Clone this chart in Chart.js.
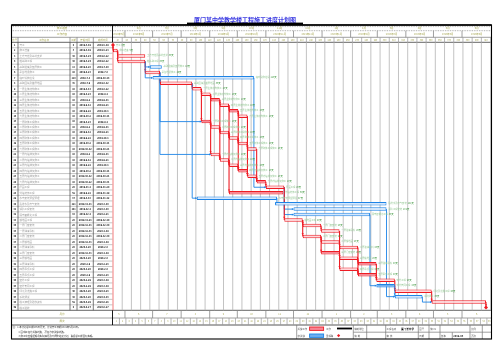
<!DOCTYPE html>
<html lang="zh-CN">
<head>
<meta charset="utf-8">
<title>施工进度计划图</title>
<script src="https://cdn.jsdelivr.net/npm/chart.js@4.4.1/dist/chart.umd.min.js"></script>
<style>html,body{margin:0;padding:0;background:#fff;overflow:hidden}canvas{display:block}</style>
</head>
<body>
<canvas id="gantt" width="503" height="355"></canvas>
<script>
// ---------------- DATA ----------------
const chartTitle = '厦门某中学教学楼工程施工进度计划图';
const taskNames = [
  '开工','施工准备','土方开挖及基坑支护','桩基础工程','基础验槽及垫层施工','承台地梁施工','临时设施搭设',
  '基础回填及首层地面','一层主体结构施工','二层主体结构施工','三层主体结构施工','四层主体结构施工','五层主体结构施工','六层主体结构施工',
  '一层砌体工程施工','二层砌体工程施工','三层砌体工程施工','四层砌体工程施工','五层砌体工程施工','六层砌体工程施工',
  '一层内墙抹灰施工','二层内墙抹灰施工','三层内墙抹灰施工','四层内墙抹灰施工','五层内墙抹灰施工','六层内墙抹灰施工',
  '屋面工程','外墙装饰工程','水电安装预留预埋','给排水及电气安装','消防工程安装','弱电智能化工程',
  '楼地面工程','一层门窗安装','一层油漆涂料','二层门窗安装','二层楼地面','二层油漆涂料',
  '三层门窗安装','三层楼地面','三层油漆涂料','四层吊顶工程','五层吊顶工程','室外工程',
  '室外管网工程','绿化及道路工程','系统调试','竣工清理及验收资料','竣工验收'
];
const startDays = [0,0,5,5,40,35,43,51,86,96,106,116,126,136,96,106,116,126,136,146,106,116,126,136,146,156,166,126,91,176,196,196,186,206,226,206,226,246,226,246,266,246,266,286,286,306,306,346,405];
const endDays   = [0,5,35,35,53,51,153,86,96,106,116,126,136,146,106,116,126,136,146,156,116,126,136,146,156,166,186,185,178,297,297,279,206,226,246,226,246,266,246,266,286,266,286,306,306,346,336,405,405];
const isCritical = [1,1,1,1,0,1,0,1,1,1,1,1,1,1,1,1,1,1,1,1,1,1,1,1,1,1,1,1,0,0,0,0,1,1,1,1,1,1,1,1,1,1,1,1,0,1,0,1,1];
const isFilled   = [0,0,0,0,0,0,0,0,0,0,1,0,1,0,1,0,0,0,0,0,0,0,0,1,0,1,0,1,0,0,0,0,0,0,0,0,0,0,1,0,1,0,1,0,1,0,0,0,0];
const isMilestone= [1,0,0,0,0,0,0,0,0,0,0,0,0,0,0,0,0,0,0,0,0,0,0,0,0,0,0,0,0,0,0,0,0,0,0,0,0,0,0,0,0,0,0,0,0,0,0,0,1];
const links = [
  [0,1],[1,2],[1,3],[3,4],[3,5],[3,6],[5,7],[7,8],[8,9],[9,10],[10,11],[11,12],[12,13],
  [8,14],[9,15],[10,16],[11,17],[12,18],[13,19],
  [14,15],[15,16],[16,17],[17,18],[18,19],
  [14,20],[15,21],[16,22],[17,23],[18,24],[19,25],
  [20,21],[21,22],[22,23],[23,24],[24,25],[25,26],
  [5,14],[5,20],[7,28],[6,26],[21,27],[28,29],[26,30],[26,31],[26,32],
  [32,33],[32,35],[33,34],[35,36],[35,38],[34,37],[36,39],[38,41],[37,40],[39,42],[41,42],
  [40,43],[42,43],[31,44],[43,45],[30,46],[44,46],[45,47],[46,47],[47,48]
];
const monthEdges = [0,13,43,74,105,135,166,196,227,258,287,318,348,379,411];
const monthNums = ['5','6','7','8','9','10','11','12','1','2','3','4','5','6'];
const monthTopLabels = ['','6月','7月','8月','9月','10月','11月','12月','1月','2月','3月','4月','5月','6月'];
const monthYearLabels = ['2019年5月','2019年6月','2019年7月','2019年8月','2019年9月','2019年10月','2019年11月','2019年12月','2020年1月','2020年2月','2020年3月','2020年4月','2020年5月','2020年6月'];
const colHeaders = ['序号','工作名称','工期','开始时间','完成时间'];
const leftHeaderTop = '施工进度';
const leftHeaderMid = '工作内容';
const footMonthLabel = '月份';
const footWeekLabel = '周次';
const notes = ['注：1.本计划总工期405日历天，计划开工日期2019年5月19日。','2.图中红色为关键线路，蓝色为非关键线路。','3.施工中应根据现场实际情况及时调整进度计划，确保总工期目标实现。'];
const AXIS_MAX = 411;

// ---------------- HELPERS ----------------
const FONT = '"Noto Sans CJK SC","Noto Sans",sans-serif';
const RED = 'rgb(238,28,36)', BLUE = 'rgb(30,132,230)', OL = 'rgb(165,165,80)';
const L = 11.5, R = 491.5, TOP = 25, BOT = 339;
const colX = [11.5, 18, 70, 77, 93.3, 112.5];
const hdrY = [25, 30.7, 37.3, 42.3];
const footY = [310.3, 318, 325, 339];

function txt(c, s, x, y, size, color, align, weight){
  c.font = (weight||'normal') + ' ' + size + 'px ' + FONT;
  c.fillStyle = color; c.textAlign = align||'center'; c.textBaseline = 'middle';
  c.fillText(s, x, y);
}
function hline(c, x1, x2, y, color, w){ c.beginPath(); c.strokeStyle=color; c.lineWidth=w; c.moveTo(x1,y); c.lineTo(x2,y); c.stroke(); }
function vline(c, x, y1, y2, color, w){ c.beginPath(); c.strokeStyle=color; c.lineWidth=w; c.moveTo(x,y1); c.lineTo(x,y2); c.stroke(); }
function dotted(c, x1, x2, y, color){ c.save(); c.setLineDash([0.8,0.9]); hline(c,x1,x2,y,color,0.8); c.restore(); }
function fmtDate(day){ const d = new Date(Date.UTC(2019,4,19+day)); return d.getUTCFullYear()+'.'+(d.getUTCMonth()+1)+'.'+d.getUTCDate(); }
function diamond(c, x, y, r, color){ c.beginPath(); c.fillStyle=color; c.moveTo(x,y-r); c.lineTo(x+r,y); c.lineTo(x,y+r); c.lineTo(x-r,y); c.closePath(); c.fill(); }

const bars = startDays.map((s,i) => isMilestone[i] ? null : [s, endDays[i]]);
const fills = isCritical.map((cr,i) => cr ? (isFilled[i] ? 'rgb(247,135,148)' : 'rgb(255,214,218)') : (isFilled[i] ? 'rgb(110,175,240)' : 'rgb(214,232,252)'));
const borders = isCritical.map(cr => cr ? RED : BLUE);

const ganttPlugin = {
  id: 'ganttFrame',
  beforeDraw(chart){
    const c = chart.ctx, xs = chart.scales.x, ys = chart.scales.y, ca = chart.chartArea;
    const X = d => xs.getPixelForValue(d);
    c.save();
    c.fillStyle = '#fff'; c.fillRect(0,0,chart.width,chart.height);
    // title
    txt(c, chartTitle, 245, 19.3, 6, 'rgb(55,55,225)', 'center', 'bold');
    c.fillStyle = '#000'; c.fillRect(187, 22.6, 116, 2.4);
    // header lines
    dotted(c, L, R, 26.6, '#999');
    dotted(c, L, R, hdrY[1], '#888');
    hline(c, L, R, hdrY[2], '#888', 0.8);
    hline(c, L, R, hdrY[3], '#555', 0.9);
    // left header
    txt(c, leftHeaderTop, 62, 28.4, 2.6, OL);
    txt(c, leftHeaderMid, 62, 34, 2.6, OL);
    colHeaders.forEach((s,k) => txt(c, s, (colX[k]+colX[k+1])/2, 39.9, 2.4, OL));
    for (let k=1;k<colX.length-1;k++) vline(c, colX[k], hdrY[2], hdrY[3], '#777', 0.7);
    // month header cells
    for (let m=1;m<monthEdges.length-1;m++) vline(c, X(monthEdges[m]), hdrY[1], hdrY[2], '#888', 0.8);
    for (let m=0;m<monthEdges.length-1;m++){
      const cx = (X(monthEdges[m]) + X(monthEdges[m+1]))/2;
      if (monthTopLabels[m]) txt(c, monthTopLabels[m], cx, 28.4, 2.5, OL);
      txt(c, monthYearLabels[m], cx, 34, 2.4, OL);
    }
    // ten-day header cells
    for (let d=10; d<AXIS_MAX; d+=10) vline(c, X(d), hdrY[2], hdrY[3], '#999', 0.7);
    for (let d=0; d<AXIS_MAX-5; d+=10) txt(c, String(d+10), X(d+5), 39.9, 2.2, OL);
    // left table rows
    const h = (ca.bottom - ca.top) / taskNames.length;
    for (let i=0;i<taskNames.length;i++){
      const y = ys.getPixelForValue(i);
      if (i>0) hline(c, L, colX[5], y - h/2, '#a0a0a0', 0.6);
      txt(c, String(i+1), (colX[0]+colX[1])/2, y, 2.3, '#000', 'center', 'bold');
      txt(c, taskNames[i], colX[1]+1.5, y, 2.5, '#999', 'left');
      txt(c, String(endDays[i]-startDays[i]), (colX[2]+colX[3])/2, y, 2.3, '#000', 'center', 'bold');
      txt(c, fmtDate(startDays[i]), (colX[3]+colX[4])/2, y, 2.4, '#000', 'center', 'bold');
      txt(c, fmtDate(isMilestone[i] ? endDays[i] : endDays[i]-1), (colX[4]+colX[5])/2, y, 2.4, '#000', 'center', 'bold');
    }
    for (let k=1;k<colX.length-1;k++) vline(c, colX[k], hdrY[3], ca.bottom, '#444', 0.7);
    // footer
    hline(c, L, R, footY[0], '#555', 0.9);
    hline(c, L, R, footY[1], '#888', 0.8);
    hline(c, L, R, footY[2], '#444', 0.9);
    txt(c, footMonthLabel, 62, (footY[0]+footY[1])/2, 2.6, OL);
    txt(c, footWeekLabel, 62, (footY[1]+footY[2])/2, 2.6, OL);
    for (let m=1;m<monthEdges.length-1;m++) vline(c, X(monthEdges[m]), footY[0], footY[1], '#888', 0.8);
    for (let m=0;m<monthEdges.length-1;m++) txt(c, monthNums[m], (X(monthEdges[m])+X(monthEdges[m+1]))/2, (footY[0]+footY[1])/2, 2.4, OL);
    for (let d=7; d<AXIS_MAX; d+=7) vline(c, X(d), footY[1], footY[2], '#999', 0.7);
    for (let d=0, k=1; d<AXIS_MAX-2; d+=7, k++) txt(c, String(k), X(Math.min(d+3.5, (d+AXIS_MAX)/2)), (footY[1]+footY[2])/2, 2.1, OL);
    // notes
    txt(c, notes[0], 12.5, 327.2, 2.4, '#333', 'left');
    txt(c, notes[1], 18.5, 331.6, 2.4, '#333', 'left');
    txt(c, notes[2], 18.5, 336, 2.4, '#333', 'left');
    // legend / title block
    const lgTop = footY[2], lgMid = 332.2;
    [296.7, 353.3, 366.7, 385.7, 418.3, 429, 440, 470, 482.3].forEach(x => vline(c, x, lgTop, BOT, '#777', 0.7));
    vline(c, 452.3, lgMid, BOT, '#777', 0.7);
    hline(c, 353.3, R, lgMid, '#777', 0.7);
    const r1 = 328.6, r2 = 335.6;
    txt(c, '关键工作', 297.6, r1, 2.4, '#555', 'left');
    c.fillStyle = 'rgb(247,135,148)'; c.fillRect(309.6, 327, 14, 3.4);
    c.strokeStyle = RED; c.lineWidth = 0.9; c.strokeRect(309.6, 327, 14, 3.4);
    txt(c, '工作', 326, r1, 2.4, '#555', 'left');
    c.fillStyle = '#000'; c.fillRect(337, 327.6, 15, 1.8);
    txt(c, '非关键', 297.6, r2, 2.4, '#555', 'left');
    c.fillStyle = 'rgb(110,175,240)'; c.fillRect(309.6, 334, 14, 3.4);
    c.strokeStyle = BLUE; c.lineWidth = 0.9; c.strokeRect(309.6, 334, 14, 3.4);
    txt(c, '里程碑', 326, r2, 2.4, '#555', 'left');
    diamond(c, 338.6, r2, 1.6, RED);
    txt(c, '编制单位', 354.2, r1, 2.4, '#555', 'left');
    txt(c, '编  制', 354.2, r2, 2.4, '#555', 'left');
    txt(c, '工程名称', 386.6, r1, 2.4, '#555', 'left');
    txt(c, '审  核', 386.6, r2, 2.4, '#555', 'left');
    txt(c, '厦门某中学', 401, r1, 2.6, '#000', 'left', 'bold');
    txt(c, '图号', 419.3, r1, 2.4, '#555', 'left');
    txt(c, '日期', 419.3, r2, 2.4, '#555', 'left');
    txt(c, '施-01', 430.2, r1, 2.4, '#555', 'left');
    txt(c, '版本', 441, r2, 2.4, '#555', 'left');
    txt(c, '2019.05', 453.2, r2, 2.6, '#000', 'left', 'bold');
    txt(c, '比例', 471.2, r1, 2.4, '#555', 'left');
    txt(c, '页次', 471.2, r2, 2.4, '#555', 'left');
    c.restore();
  },
  beforeDatasetsDraw(chart){
    const c = chart.ctx, xs = chart.scales.x, ys = chart.scales.y, ca = chart.chartArea;
    const X = d => xs.getPixelForValue(d);
    c.save();
    for (let d=10; d<AXIS_MAX; d+=10) vline(c, X(d), ca.top, ca.bottom, '#b4b4b4', 0.8);
    vline(c, X(0), ca.top, ca.bottom, 'rgba(240,110,110,0.9)', 1);
    const h = (ca.bottom - ca.top) / taskNames.length;
    links.forEach(([a,b]) => {
      const crit = isCritical[a] && isCritical[b] && endDays[a] === startDays[b];
      const col = crit ? RED : BLUE;
      const x1 = X(endDays[a]), y1 = ys.getPixelForValue(a), y2 = ys.getPixelForValue(b), x2 = X(startDays[b]);
      c.beginPath(); c.strokeStyle = col; c.lineWidth = crit ? 1.1 : 0.9;
      c.moveTo(x1, y1); c.lineTo(x1, y2); c.lineTo(x2, y2); c.stroke();
      c.fillStyle = col; c.beginPath();
      if (Math.abs(x2-x1) < 0.5){ const yt = y2 - h*0.3; c.moveTo(x2-1.2, yt-1.6); c.lineTo(x2+1.2, yt-1.6); c.lineTo(x2, yt); }
      else { const dir = x2 > x1 ? 1 : -1; c.moveTo(x2-1.6*dir, y2-1.1); c.lineTo(x2-1.6*dir, y2+1.1); c.lineTo(x2, y2); }
      c.closePath(); c.fill();
    });
    c.restore();
  },
  afterDatasetsDraw(chart){
    const c = chart.ctx, xs = chart.scales.x, ys = chart.scales.y;
    const X = d => xs.getPixelForValue(d);
    c.save();
    for (let i=0;i<taskNames.length;i++){
      const y = ys.getPixelForValue(i);
      if (isMilestone[i]) diamond(c, X(startDays[i]), y, 2, RED);
      const dur = endDays[i]-startDays[i];
      const x = X(endDays[i]) + (isMilestone[i] ? 3 : 1.8);
      if (x > 470) continue;
      txt(c, taskNames[i], x, y - 0.4, 2.3, 'rgb(150,200,150)', 'left');
      c.font = 'normal 2.3px ' + FONT;
      const w = c.measureText(taskNames[i]).width;
      txt(c, dur + '天', x + w + 1, y - 0.4, 2.3, 'rgb(50,145,50)', 'left');
    }
    c.restore();
  },
  afterDraw(chart){
    const c = chart.ctx;
    c.save();
    c.strokeStyle = '#000'; c.lineWidth = 1.1; c.strokeRect(L, TOP, R-L, BOT-TOP);
    hline(c, L, R, TOP, '#000', 1.6);
    vline(c, colX[5], hdrY[0], hdrY[3], '#000', 0.9);
    vline(c, colX[5], footY[0], footY[2], '#000', 0.9);
    c.restore();
  }
};

new Chart(document.getElementById('gantt'), {
  type: 'bar',
  data: {
    labels: taskNames,
    datasets: [{
      data: bars,
      backgroundColor: fills,
      borderColor: borders,
      borderWidth: 1,
      borderSkipped: false,
      barPercentage: 0.64,
      categoryPercentage: 1
    }]
  },
  options: {
    indexAxis: 'y',
    responsive: false,
    animation: false,
    events: [],
    layout: { padding: { left: 113, right: 11.5, top: 42.3, bottom: 44.7 } },
    scales: {
      x: { type: 'linear', min: 0, max: AXIS_MAX, display: false },
      y: { type: 'category', display: false }
    },
    plugins: { legend: { display: false }, tooltip: { enabled: false } }
  },
  plugins: [ganttPlugin]
});
</script>
</body>
</html>
